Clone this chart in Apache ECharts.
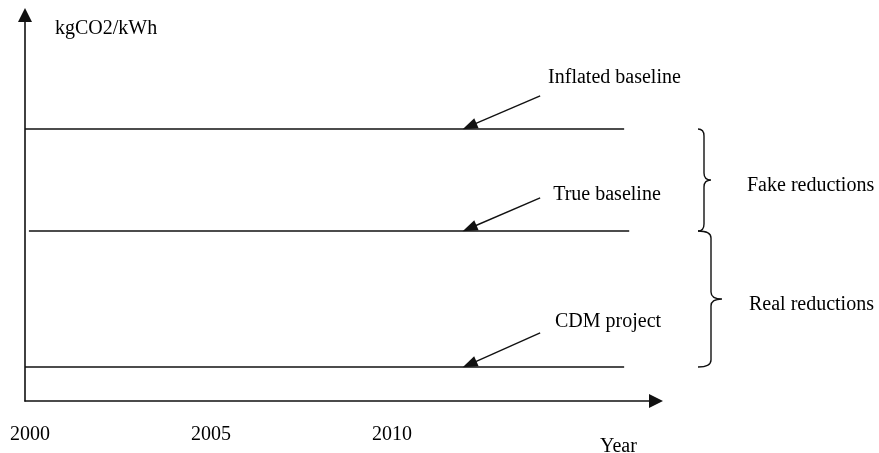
<!DOCTYPE html>
<html>
<head>
<meta charset="utf-8">
<script src="https://cdn.jsdelivr.net/npm/echarts@6/dist/echarts.min.js"></script>
<style>html,body{margin:0;padding:0;background:#fff;}#c{width:879px;height:453px;}</style>
</head>
<body>
<div id="c"></div>
<script>
// ---- data ----
const tickYears = [2000, 2005, 2010];
const seriesNames = ['Inflated baseline', 'True baseline', 'CDM project'];
const levels = [8, 5, 1];
const startYears = [1999.862, 1999.97, 1999.862];
const endYears = [2016.41, 2016.55, 2016.41];
const arrowTailX = [2014.09, 2014.09, 2014.09];
const arrowTailY = [8.97, 5.97, 2.0];
const arrowTipX = [2012.14, 2012.14, 2012.14];
const arrowTipY = [8.08, 5.08, 1.08];
const labelX = [2014.31, 2014.45, 2014.5];
const labelY = [9.5, 6.06, 2.32];
const braceTop = [8, 5];
const braceBottom = [5, 1];
const braceLabels = ['Fake reductions', 'Real reductions'];
const braceX = 2018.45;
const xMin = 1999.862, xMax = 2017.29, yMin = 0, yMax = 11.35;

const FONT = 'Liberation Serif';
const INK = '#111';

const chart = echarts.init(document.getElementById('c'), null, {renderer: 'canvas'});

const lineSeries = seriesNames.map((name, i) => ({
  name: name,
  type: 'line',
  data: [[startYears[i], levels[i]], [endYears[i], levels[i]]],
  symbol: 'none',
  lineStyle: {color: INK, width: 1.6},
  silent: true,
  markLine: {
    silent: true,
    symbol: ['none', 'triangle'],
    symbolSize: [11, 15],
    lineStyle: {color: INK, width: 1.4, type: 'solid'},
    label: {show: false},
    data: [[
      {coord: [arrowTailX[i], arrowTailY[i]]},
      {coord: [arrowTipX[i], arrowTipY[i]]}
    ]]
  },
  markPoint: {
    silent: true,
    symbol: 'circle',
    symbolSize: 0,
    label: {
      show: true, position: 'right', distance: 0,
      formatter: name, color: '#000', fontFamily: FONT, fontSize: 20,
      verticalAlign: 'middle'
    },
    data: [{coord: [labelX[i], labelY[i]]}]
  }
}));

const braceSeries = {
  type: 'custom',
  clip: false,
  silent: true,
  data: braceTop.map((t, i) => [t, braceBottom[i]]),
  renderItem: function (params, api) {
    const i = params.dataIndex;
    const top = api.coord([braceX, api.value(0)]);
    const bot = api.coord([braceX, api.value(1)]);
    const x0 = top[0];
    const xv = x0 + (i === 0 ? 6 : 13);
    const xp = x0 + (i === 0 ? 13 : 24);
    const y1 = top[1], y2 = bot[1], ym = (y1 + y2) / 2, r = 7;
    const path = 'M' + x0 + ' ' + y1 +
      ' Q' + xv + ' ' + y1 + ' ' + xv + ' ' + (y1 + r) +
      ' L' + xv + ' ' + (ym - r) +
      ' Q' + xv + ' ' + ym + ' ' + xp + ' ' + ym +
      ' Q' + xv + ' ' + ym + ' ' + xv + ' ' + (ym + r) +
      ' L' + xv + ' ' + (y2 - r) +
      ' Q' + xv + ' ' + y2 + ' ' + x0 + ' ' + y2;
    return {
      type: 'group',
      children: [
        {type: 'path', shape: {pathData: path}, style: {fill: 'none', stroke: INK, lineWidth: 1.4}},
        {type: 'text', x: x0 + (i === 0 ? 49 : 51), y: ym + 5.5,
         style: {text: braceLabels[i], fill: '#000', font: '20px "' + FONT + '"', textAlign: 'left', textVerticalAlign: 'middle'}}
      ]
    };
  }
};

chart.setOption({
  animation: false,
  backgroundColor: '#fff',
  grid: {left: 25, right: 223, top: 15, bottom: 52, containLabel: false, outerBoundsMode: 'none'},
  xAxis: {
    type: 'value', min: xMin, max: xMax,
    name: 'Year', nameLocation: 'end', nameGap: -56,
    nameTextStyle: {color: '#000', fontFamily: FONT, fontSize: 20, align: 'left', verticalAlign: 'top', padding: [36, 0, 0, 0]},
    axisLine: {show: true, onZero: false, symbol: ['none', 'triangle'], symbolSize: [14, 14], lineStyle: {color: INK, width: 1.6}},
    axisTick: {show: false},
    splitLine: {show: false},
    axisLabel: {show: true, customValues: tickYears, color: '#000', fontFamily: FONT, fontSize: 20, margin: 24, formatter: v => String(v)}
  },
  yAxis: {
    type: 'value', min: yMin, max: yMax,
    name: 'kgCO2/kWh', nameLocation: 'end', nameGap: -14,
    nameTextStyle: {color: '#000', fontFamily: FONT, fontSize: 20, align: 'left', verticalAlign: 'middle', padding: [0, 0, 0, 30]},
    axisLine: {show: true, onZero: false, symbol: ['none', 'triangle'], symbolSize: [14, 14], lineStyle: {color: INK, width: 1.6}},
    axisTick: {show: false},
    splitLine: {show: false},
    axisLabel: {show: false}
  },
  series: lineSeries.concat([braceSeries])
});
</script>
</body>
</html>
